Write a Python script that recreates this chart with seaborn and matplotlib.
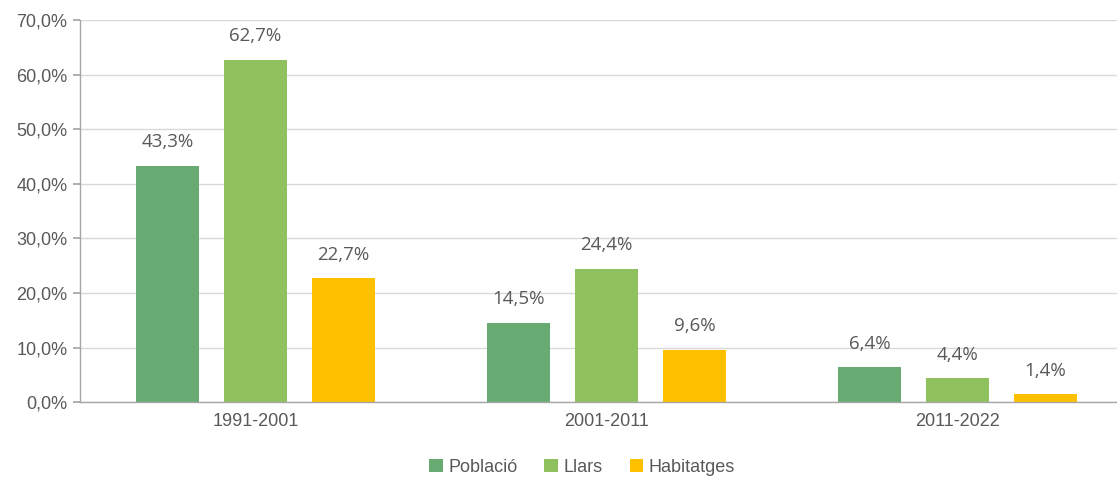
import matplotlib
matplotlib.use("Agg")
import matplotlib.pyplot as plt
import pandas as pd
import seaborn as sns

periods = ["1991-2001", "2001-2011", "2011-2022"]
series = ["Població", "Llars", "Habitatges"]
poblacio = [43.3, 14.5, 6.4]
llars = [62.7, 24.4, 4.4]
habitatges = [22.7, 9.6, 1.4]
colors = ["#67AB73", "#8FC25F", "#FFC000"]
y_ticks = [0, 10, 20, 30, 40, 50, 60, 70]

TEXT = "#595959"

sns.set_theme(style="white")
plt.rcParams["font.family"] = ["Liberation Sans", "DejaVu Sans"]

df = pd.DataFrame({
    "Període": periods * 3,
    "Sèrie": [s for s in series for _ in periods],
    "Valor": poblacio + llars + habitatges,
})

fig = plt.figure(figsize=(11.17, 4.88), dpi=100)
# the plot area runs past the right edge of the picture, as in the original
ax = fig.add_axes([0.0716, 0.176, 0.9284, 0.783])

sns.barplot(data=df, x="Període", y="Valor", hue="Sèrie", hue_order=series,
            palette=colors, saturation=1, width=0.75, gap=0.28,
            linewidth=0, ax=ax, legend=True)

for container in ax.containers:
    for bar in container:
        h = bar.get_height()
        ax.annotate(f"{h:.1f}%".replace(".", ","),
                    (bar.get_x() + bar.get_width() / 2, h),
                    xytext=(0, 10.5), textcoords="offset points",
                    ha="center", va="bottom", fontsize=13.5, color=TEXT,
                    family=["Open Sans", "DejaVu Sans"])

ax.set_ylim(0, 70)
ax.set_xlim(-0.5, 2.454)
ax.set_yticks(y_ticks)
ax.set_yticklabels([f"{t},0%" for t in y_ticks])
ax.yaxis.grid(True, color="#D9D9D9", linewidth=1)
ax.set_axisbelow(True)

# group separators as tick marks on the category axis
ax.set_xticks([-0.5, 0.5, 1.5], minor=False, labels=["", "", ""])
ax.set_xticks([0, 1, 2], minor=True, labels=periods)
ax.tick_params(axis="x", which="major", direction="out", length=5, color="#A6A6A6")
ax.tick_params(axis="x", which="minor", length=0, labelsize=13, labelcolor=TEXT, pad=8)
ax.tick_params(axis="y", direction="out", length=5, color="#A6A6A6", left=True,
               labelsize=13, labelcolor=TEXT, pad=4)

ax.set_xlabel("")
ax.set_ylabel("")
for side in ["top", "right"]:
    ax.spines[side].set_visible(False)
for side in ["left", "bottom"]:
    ax.spines[side].set_color("#A6A6A6")
    ax.spines[side].set_linewidth(1)

handles, labels = ax.get_legend_handles_labels()
ax.legend_.remove()
fig.legend(handles, labels, loc="center", bbox_to_anchor=(0.521, 0.043), ncol=3,
           frameon=False, fontsize=13, labelcolor=TEXT, handlelength=0.75,
           handleheight=0.75, handletextpad=0.3, columnspacing=1.5)

fig.savefig("out.png", dpi=100)
